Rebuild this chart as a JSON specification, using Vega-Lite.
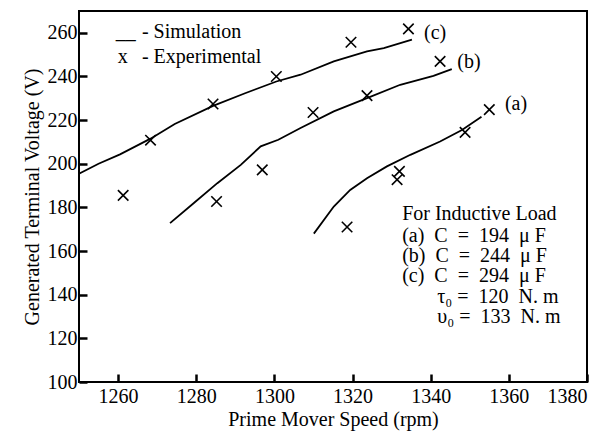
{
  "$schema": "https://vega.github.io/schema/vega-lite/v6.json",
  "width": 508,
  "height": 371,
  "autosize": {"type": "none"},
  "padding": {"left": 79, "top": 11, "right": 28, "bottom": 50},
  "background": "white",
  "config": {
    "view": {"stroke": "black", "strokeWidth": 2},
    "font": "Liberation Serif",
    "axis": {
      "domain": false,
      "grid": false,
      "labelFont": "Liberation Serif",
      "labelFontSize": 20,
      "labelColor": "black",
      "titleFont": "Liberation Serif",
      "titleFontSize": 20,
      "titleFontWeight": "normal",
      "titleColor": "black"
    }
  },
  "datasets": {
    "simulation": [
      {"series": "c", "rpm": 1250, "volt": 195.4},
      {"series": "c", "rpm": 1255, "volt": 200},
      {"series": "c", "rpm": 1260.5, "volt": 204.3},
      {"series": "c", "rpm": 1268.3, "volt": 211.5},
      {"series": "c", "rpm": 1274.5, "volt": 218.2},
      {"series": "c", "rpm": 1284.3, "volt": 226.5},
      {"series": "c", "rpm": 1292.5, "volt": 232.3},
      {"series": "c", "rpm": 1300.5, "volt": 237.7},
      {"series": "c", "rpm": 1306.7, "volt": 240.8},
      {"series": "c", "rpm": 1315.2, "volt": 246.9},
      {"series": "c", "rpm": 1323.7, "volt": 251.5},
      {"series": "c", "rpm": 1328, "volt": 253},
      {"series": "c", "rpm": 1335.2, "volt": 256.9},
      {"series": "b", "rpm": 1273.3, "volt": 172.8},
      {"series": "b", "rpm": 1279.4, "volt": 182},
      {"series": "b", "rpm": 1285.4, "volt": 191.1},
      {"series": "b", "rpm": 1291.4, "volt": 199.5},
      {"series": "b", "rpm": 1296.5, "volt": 208},
      {"series": "b", "rpm": 1301, "volt": 211},
      {"series": "b", "rpm": 1306.7, "volt": 216.4},
      {"series": "b", "rpm": 1315.2, "volt": 224},
      {"series": "b", "rpm": 1323.7, "volt": 230.1},
      {"series": "b", "rpm": 1332.2, "volt": 236.2},
      {"series": "b", "rpm": 1340.7, "volt": 240.3},
      {"series": "b", "rpm": 1345.4, "volt": 243.4},
      {"series": "a", "rpm": 1310.1, "volt": 168},
      {"series": "a", "rpm": 1315.2, "volt": 180.4},
      {"series": "a", "rpm": 1319.4, "volt": 188},
      {"series": "a", "rpm": 1323.7, "volt": 193.4},
      {"series": "a", "rpm": 1328.8, "volt": 198.8},
      {"series": "a", "rpm": 1334.8, "volt": 204.1},
      {"series": "a", "rpm": 1342.4, "volt": 210.2},
      {"series": "a", "rpm": 1348, "volt": 215.5},
      {"series": "a", "rpm": 1353, "volt": 221.5}
    ],
    "experimental": [
      {"rpm": 1261.3, "volt": 185.5},
      {"rpm": 1268.3, "volt": 210.8},
      {"rpm": 1284.3, "volt": 227.4},
      {"rpm": 1285.2, "volt": 182.7},
      {"rpm": 1296.9, "volt": 197.2},
      {"rpm": 1300.5, "volt": 240},
      {"rpm": 1309.9, "volt": 223.5},
      {"rpm": 1318.6, "volt": 171},
      {"rpm": 1319.6, "volt": 255.7},
      {"rpm": 1323.7, "volt": 231.2},
      {"rpm": 1331.4, "volt": 192.7},
      {"rpm": 1332, "volt": 196.5},
      {"rpm": 1334.3, "volt": 261.8},
      {"rpm": 1342.4, "volt": 246.9},
      {"rpm": 1348.8, "volt": 214.4},
      {"rpm": 1355, "volt": 224.8}
    ],
    "notes": [
      {"rpm": 1259.4, "volt": 260.6, "label": "__"},
      {"rpm": 1266.1, "volt": 260.6, "label": "- Simulation"},
      {"rpm": 1259.9, "volt": 249.1, "label": "x"},
      {"rpm": 1266.1, "volt": 249.1, "label": "- Experimental"},
      {"rpm": 1338.3, "volt": 260.1, "label": "(c)"},
      {"rpm": 1346.8, "volt": 246.8, "label": "(b)"},
      {"rpm": 1359, "volt": 227.5, "label": "(a)"},
      {"rpm": 1332.7, "volt": 177.1, "label": "For Inductive Load"},
      {"rpm": 1332.7, "volt": 167, "label": "(a)\u00a0\u00a0C\u00a0\u00a0=\u00a0\u00a0194\u00a0\u00a0μ F"},
      {"rpm": 1332.7, "volt": 157.8, "label": "(b)\u00a0\u00a0C\u00a0\u00a0=\u00a0\u00a0244\u00a0\u00a0μ F"},
      {"rpm": 1332.7, "volt": 148.6, "label": "(c)\u00a0\u00a0C\u00a0\u00a0=\u00a0\u00a0294\u00a0\u00a0μ F"},
      {"rpm": 1341.7, "volt": 139, "label": "τ₀ =\u00a0\u00a0120\u00a0\u00a0N. m"},
      {"rpm": 1341.7, "volt": 129.8, "label": "υ₀ =\u00a0\u00a0133\u00a0\u00a0N. m"}
    ]
  },
  "encoding": {
    "x": {
      "field": "rpm", "type": "quantitative",
      "scale": {"domain": [1250, 1380], "nice": false, "zero": false},
      "axis": {"orient": "bottom", "format": "d", "tickCount": 7, "tickColor": "black", "tickSize": -8, "tickWidth": 2.5, "labelPadding": 12, "title": "Prime Mover Speed (rpm)", "titlePadding": 3}
    },
    "y": {
      "field": "volt", "type": "quantitative",
      "scale": {"domain": [100, 270], "nice": false, "zero": false},
      "axis": {"orient": "left", "format": "d", "tickCount": 9, "tickColor": "black", "tickSize": -8, "tickWidth": 2.5, "labelPadding": 10, "title": "Generated Terminal Voltage (V)", "titlePadding": 5}
    }
  },
  "layer": [
    {
      "data": {"name": "simulation"},
      "mark": {"type": "line", "color": "black", "strokeWidth": 1.8, "clip": true},
      "encoding": {
        "detail": {"field": "series"}
      }
    },
    {
      "data": {"name": "experimental"},
      "mark": {"type": "point", "shape": "M-1,-1L1,1M-1,1L1,-1", "filled": false, "stroke": "black", "strokeWidth": 1.6, "size": 110, "opacity": 1},
      "encoding": {}
    },
    {
      "data": {"name": "notes"},
      "mark": {"type": "text", "align": "left", "baseline": "middle", "font": "Liberation Serif", "fontSize": 20, "color": "black"},
      "encoding": {
        "text": {"field": "label"}
      }
    }
  ]
}
